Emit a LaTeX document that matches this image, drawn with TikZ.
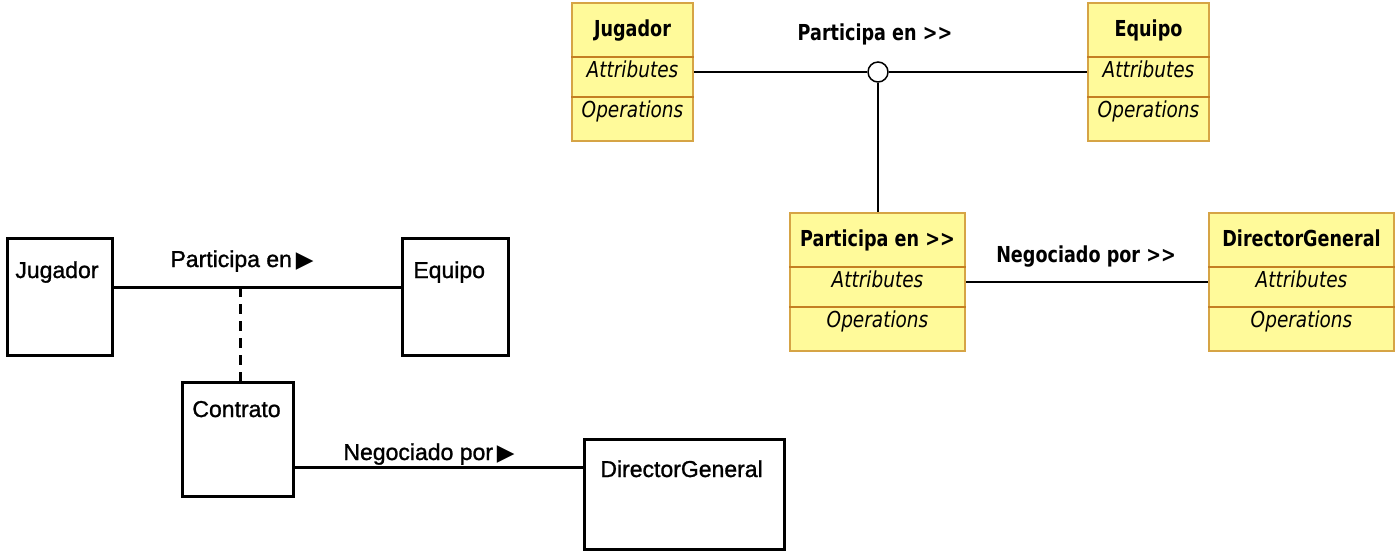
\documentclass[tikz,border=0pt]{standalone}
\usepackage{fontspec}
\setmainfont[FakeBold=1.2]{Liberation Sans}
\newfontfamily\umlfont[FakeStretch=0.8, ItalicFeatures={FakeStretch=0.84}]{DejaVu Sans}
\newfontfamily\symfont{DejaVu Sans}
\usetikzlibrary{calc}
\definecolor{umlfill}{HTML}{FFFA9A}
\definecolor{umlborder}{HTML}{D6A445}
\definecolor{umldivider}{HTML}{C47F22}

\begin{document}
\begin{tikzpicture}[x=0.5pt, y=-0.5pt,
        umlclass/.style={draw=umlborder, fill=umlfill, line width=0.8pt, minimum height=69pt, inner sep=0pt},
        umltitle/.style={font=\umlfont\bfseries\fontsize{11}{13}\selectfont, anchor=base, inner sep=0pt},
        umlpart/.style={font=\umlfont\itshape\fontsize{11}{13}\selectfont, anchor=base, inner sep=0pt},
        divider/.style={draw=umldivider, line width=0.9pt},
        assoc/.style={draw, line width=0.75pt},
        oldbox/.style={draw, line width=1.5pt, inner sep=0pt},
        oldline/.style={draw, line width=1.5pt},
        olddash/.style={draw, line width=1.5pt, dash pattern=on 5pt off 3.5pt},
        oldtext/.style={font=\fontsize{11.5}{13}\selectfont, anchor=base west, inner sep=0pt},
        oldlabel/.style={font=\fontsize{11.5}{13}\selectfont, anchor=base, inner sep=0pt}]
        \useasboundingbox (0,0) rectangle (1400,554);

        % old notation (left)
        \node[oldbox, minimum width=52.5pt, minimum height=58.5pt] (jugL) at (59.5,296.5) {};
        \node[oldbox, minimum width=53pt, minimum height=58.5pt] (eqL) at (455,296.5) {};
        \node[oldbox, minimum width=55.5pt, minimum height=57pt] (contrato) at (237.5,439) {};
        \node[oldbox, minimum width=100pt, minimum height=55pt] (dirL) at (684,494) {};
        \node[oldtext] (jugLtext) at (15,278) {Jugador};
        \node[oldtext] (eqLtext) at (413,278) {Equipo};
        \node[oldtext] (contratotext) at (192,417) {Contrato};
        \node[oldtext] (dirLtext) at (600,477) {DirectorGeneral};
        \node[oldlabel] (partLlbl) at (242,267) {Participa en\,{\symfont ▶}};
        \node[oldlabel] (negLlbl) at (429,460) {Negociado por\,{\symfont ▶}};

        \draw[oldline] ([yshift=4.75pt]jugL.east) -- ([yshift=4.75pt]eqL.west);
        \coordinate (assocL) at (240,287);
        \draw[olddash] (assocL) -- (assocL |- contrato.north);
        \draw[oldline] ([yshift=-14pt]contrato.east) -- ([yshift=-14pt]contrato.east -| dirL.west);

        % UML classes (right)
        \node[umlclass, minimum width=60.5pt] (jugR) at (632.5,72) {};
        \node[umlclass, minimum width=60.5pt] (eqR) at (1148.5,72) {};
        \node[umlclass, minimum width=87.5pt] (partR) at (877.5,282) {};
        \node[umlclass, minimum width=92.5pt] (dirR) at (1301.5,282) {};
        \node[umltitle] (jugRtitle) at ([yshift=-17pt]jugR.north) {Jugador};
        \node[umltitle] (eqRtitle) at ([yshift=-17pt]eqR.north) {Equipo};
        \node[umltitle] (partRtitle) at ([yshift=-17pt]partR.north) {Participa en >{}>};
        \node[umltitle] (dirRtitle) at ([yshift=-17pt]dirR.north) {DirectorGeneral};
        \foreach \c in {jugR,eqR,partR,dirR} {
            \draw[divider] ([yshift=-27.5pt]\c.north west) -- ([yshift=-27.5pt]\c.north east);
            \draw[divider] ([yshift=-47.5pt]\c.north west) -- ([yshift=-47.5pt]\c.north east);
            \node[umlpart] (\c attr) at ([yshift=-37.75pt]\c.north) {Attributes};
            \node[umlpart] (\c ops) at ([yshift=-57.75pt]\c.north) {Operations};
        }

        \node[circle, draw, fill=white, line width=0.75pt, minimum size=10pt, inner sep=0pt] (junc) at (878,72) {};
        \draw[assoc] (jugR.east) -- (junc.west);
        \draw[assoc] (junc.east) -- (eqR.west);
        \draw[assoc] (junc.south) -- (junc.south |- partR.north);
        \draw[assoc] (partR.east) -- (dirR.west);
        \node[umltitle] (partRlbl) at (875,40) {Participa en >{}>};
        \node[umltitle] (negRlbl) at (1086,262) {Negociado por >{}>};
    \end{tikzpicture}
\end{document}
